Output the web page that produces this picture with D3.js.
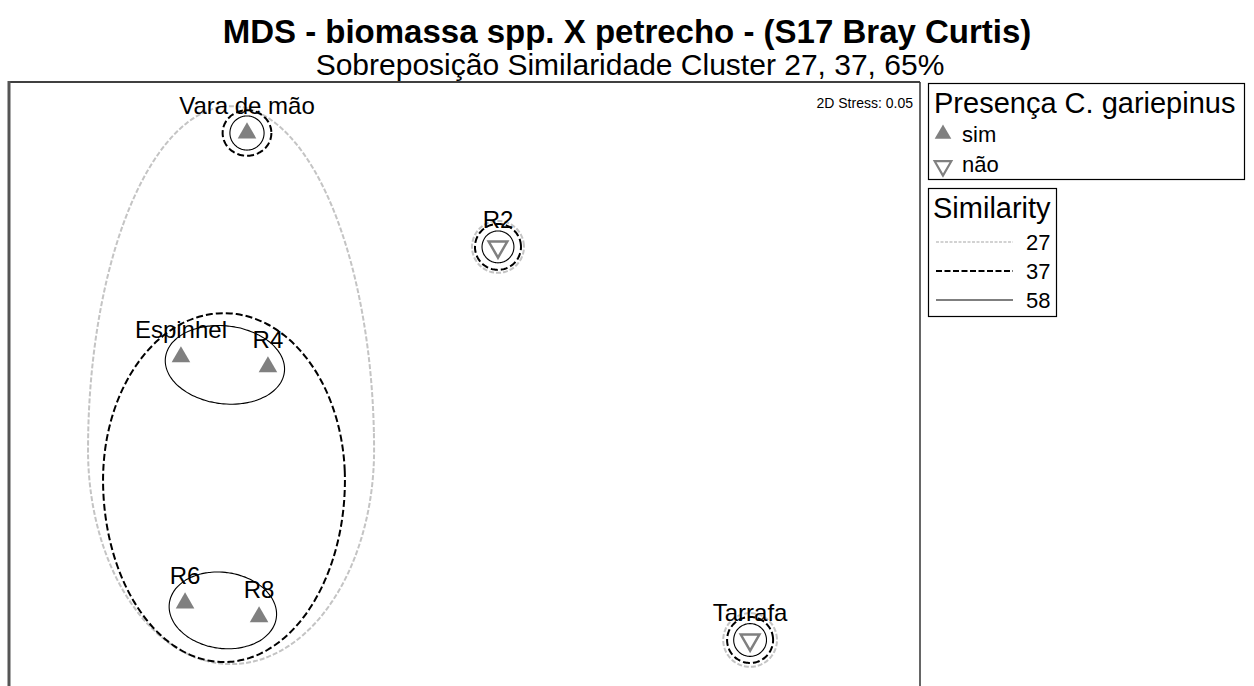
<!DOCTYPE html>
<html lang="pt">
<head>
<meta charset="UTF-8">
<title>MDS - biomassa spp. X petrecho</title>
<script src="https://cdnjs.cloudflare.com/ajax/libs/d3/7.8.5/d3.min.js"></script>
<style>
    body { margin: 0; background: #fff; }
    svg { display: block; font-family: "Liberation Sans", Arial, sans-serif; }
</style>
</head>
<body>
<svg id="chart" width="1254" height="686"></svg>
<script>
// MDS ordination (2D), sample coordinates
const samples  = ["Vara de mão", "R2", "Espinhel", "R4", "R6", "R8", "Tarrafa"];
const mds1     = [-0.955, 0.147, -1.245, -0.863, -1.227, -0.902, 1.254];
const mds2     = [1.276, 0.776, 0.293, 0.249, -0.788, -0.849, -0.950];
const presence = ["sim", "não", "sim", "sim", "sim", "sim", "não"];

// cluster overlays: similarity level, centre, radii (MDS units), tilt
const clusterLevel = [27, 37, 58, 58, 37, 58, 27, 37, 58, 27, 37, 58];
const clusterCx    = [-1.025, -1.056, -1.052, -1.061, -0.955, -0.955, 0.147, 0.147, 0.147, 1.254, 1.254, 1.254];
const clusterCy    = [-0.116, -0.248, 0.258, -0.820, 1.276, 1.276, 0.776, 0.776, 0.776, -0.950, -0.950, -0.950];
const clusterRx    = [0.628, 0.531, 0.263, 0.237, 0.107, 0.075, 0.114, 0.101, 0.070, 0.118, 0.101, 0.072];
const clusterRyTop = [1.510, 0.733, 0.171, 0.167, 0.100, 0.075, 0.114, 0.101, 0.070, 0.118, 0.101, 0.072];
const clusterRyBot = [0.940, 0.799, 0.171, 0.167, 0.100, 0.075, 0.114, 0.101, 0.070, 0.118, 0.101, 0.072];
const clusterTilt  = [0, 0, 7, 8, 0, 0, 0, 0, 0, 0, 0, 0];

const simLevels = [27, 37, 58];
const presenceKeys = ["sim", "não"];
const stressText = "2D Stress: 0.05";

const svg = d3.select("#chart");
const plot = { left: 9, top: 82, right: 920, bottom: 720 };

// isotropic scales
const pxPerUnit = 227.75;
const x = d3.scaleLinear().domain([-2, 2]).range([plot.left, plot.left + 4 * pxPerUnit]);
const y = d3.scaleLinear().domain([1.5, -1.5]).range([plot.top, plot.top + 3 * pxPerUnit]);

const levelStyle = {
    27: { stroke: "#c4c4c4", width: 2, dash: "5,2", legWidth: 1.3, legDash: "3,1.5" },
    37: { stroke: "#000", width: 2, dash: "7,3", legWidth: 2, legDash: "6,2.5" },
    58: { stroke: "#000", width: 1.1, dash: null, legWidth: 1.1, legDash: null }
};

// titles
svg.append("text")
    .attr("x", 627).attr("y", 43)
    .attr("text-anchor", "middle")
    .attr("font-size", 33).attr("font-weight", "bold")
    .text("MDS - biomassa spp. X petrecho - (S17 Bray Curtis)");
svg.append("text")
    .attr("x", 630).attr("y", 75)
    .attr("text-anchor", "middle")
    .attr("font-size", 30)
    .text("Sobreposição Similaridade Cluster 27, 37, 65%");

// plot frame
const frame = svg.append("g");
frame.append("line").attr("x1", plot.left).attr("x2", plot.right).attr("y1", plot.top).attr("y2", plot.top)
    .attr("stroke", "#000").attr("stroke-width", 1.5);
frame.append("line").attr("x1", plot.left).attr("x2", plot.left).attr("y1", plot.top - 1).attr("y2", plot.bottom)
    .attr("stroke", "#555").attr("stroke-width", 3);
frame.append("line").attr("x1", plot.right).attr("x2", plot.right).attr("y1", plot.top).attr("y2", plot.bottom)
    .attr("stroke", "#333").attr("stroke-width", 1.5);

svg.append("text")
    .attr("x", 913).attr("y", 108)
    .attr("text-anchor", "end")
    .attr("font-size", 14)
    .text(stressText);

// cluster outlines (egg-shaped ellipse: different vertical radius above/below)
const angles = d3.range(0, 360, 3).map(a => a * Math.PI / 180);
const outline = d3.line().curve(d3.curveCardinalClosed);
const clusters = clusterLevel.map((lv, i) => ({
    lv, cx: clusterCx[i], cy: clusterCy[i], rx: clusterRx[i],
    ryT: clusterRyTop[i], ryB: clusterRyBot[i], tilt: clusterTilt[i]
}));

svg.append("g").selectAll("path")
    .data(clusters)
    .join("path")
    .attr("d", d => {
        const pts = angles.map(t => {
            const s = Math.sin(t);
            const ry = s >= 0 ? d.ryT : d.ryB;
            return [x(d.cx + d.rx * Math.cos(t)) - x(d.cx), y(d.cy + ry * s) - y(d.cy)];
        });
        return outline(pts);
    })
    .attr("transform", d => `translate(${x(d.cx)},${y(d.cy)}) rotate(${d.tilt})`)
    .attr("fill", "none")
    .attr("stroke", d => levelStyle[d.lv].stroke)
    .attr("stroke-width", d => levelStyle[d.lv].width)
    .attr("stroke-dasharray", d => levelStyle[d.lv].dash);

// sample symbols
const triUp = d3.symbol().type(d3.symbolTriangle).size(150);
const pts = samples.map((s, i) => ({ name: s, x: mds1[i], y: mds2[i], p: presence[i] }));

const g = svg.append("g");
g.selectAll("path.pt")
    .data(pts)
    .join("path")
    .attr("class", "pt")
    .attr("d", triUp())
    .attr("transform", d => `translate(${x(d.x)},${y(d.y)})` + (d.p === "não" ? " rotate(180)" : ""))
    .attr("fill", d => d.p === "sim" ? "#808080" : "none")
    .attr("stroke", "#808080")
    .attr("stroke-width", d => d.p === "sim" ? 0 : 2.5)
    .attr("stroke-linejoin", "miter");

g.selectAll("text.lbl")
    .data(pts)
    .join("text")
    .attr("class", "lbl")
    .attr("x", d => x(d.x))
    .attr("y", d => y(d.y) - 19)
    .attr("text-anchor", "middle")
    .attr("font-size", 24)
    .text(d => d.name);

// legend: presence
const leg1 = svg.append("g");
leg1.append("rect").attr("x", 928.5).attr("y", 83.5).attr("width", 316).attr("height", 96)
    .attr("fill", "none").attr("stroke", "#000").attr("stroke-width", 1.2);
leg1.append("text").attr("x", 934).attr("y", 113).attr("font-size", 29).text("Presença C. gariepinus");
presenceKeys.forEach((k, i) => {
    const cy = 134 + i * 32;
    leg1.append("path")
        .attr("d", d3.symbol().type(d3.symbolTriangle).size(120)())
        .attr("transform", `translate(943,${cy})` + (k === "não" ? " rotate(180)" : ""))
        .attr("fill", k === "sim" ? "#808080" : "none")
        .attr("stroke", "#808080")
        .attr("stroke-width", k === "sim" ? 0 : 2.2);
    leg1.append("text").attr("x", 962).attr("y", 142 + i * 30).attr("font-size", 22).text(k);
});

// legend: similarity
const leg2 = svg.append("g");
leg2.append("rect").attr("x", 928.5).attr("y", 188.5).attr("width", 128).attr("height", 128)
    .attr("fill", "none").attr("stroke", "#000").attr("stroke-width", 1.2);
leg2.append("text").attr("x", 933).attr("y", 218).attr("font-size", 29).text("Similarity");
simLevels.forEach((lv, i) => {
    const ly = 242 + i * 29;
    leg2.append("line").attr("x1", 936).attr("x2", 1013).attr("y1", ly).attr("y2", ly)
        .attr("stroke", levelStyle[lv].stroke)
        .attr("stroke-width", levelStyle[lv].legWidth)
        .attr("stroke-dasharray", levelStyle[lv].legDash);
    leg2.append("text").attr("x", 1026).attr("y", ly + 8).attr("font-size", 22).text(lv);
});
</script>
</body>
</html>
